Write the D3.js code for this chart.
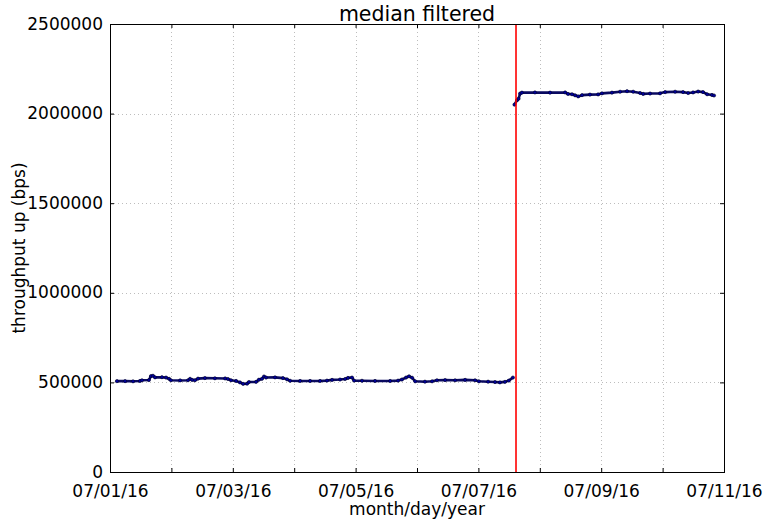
<!DOCTYPE html>
<html>
<head>
<meta charset="utf-8">
<script src="https://cdn.jsdelivr.net/npm/d3@7"></script>
<style>
  html, body { margin: 0; padding: 0; background: #fff; }
  svg { display: block; font-family: "DejaVu Sans", sans-serif; }
</style>
</head>
<body>
<svg id="chart" width="765" height="522"></svg>
<script>
// Sample times are hours after 07/01/16 00:00 (UTC); values are bps.
const lowHours = [2.7, 5.9, 9.0, 11.7, 12.5, 15.2, 16.0, 16.8, 17.6, 20.3, 21.9, 23.1, 23.8, 27.4, 30.5, 31.3, 32.1, 33.2, 34.4, 37.1, 41.0, 45.0, 46.1, 47.3, 49.3, 50.8, 52.0, 53.6, 54.3, 57.1, 58.2, 59.4, 60.2, 61.0, 64.5, 67.6, 69.2, 70.4, 74.3, 78.2, 82.1, 84.8, 86.8, 89.9, 91.9, 93.0, 94.6, 95.4, 98.5, 103.6, 109.5, 112.6, 114.1, 115.7, 116.9, 118.1, 119.3, 123.1, 125.9, 127.8, 131.0, 134.9, 138.8, 142.7, 144.2, 147.8, 150.5, 152.4, 154.4, 155.9, 157.5];
const lowValues = [507000, 507000, 506000, 508000, 512000, 513000, 535000, 537000, 528000, 529000, 527000, 520000, 512000, 511000, 512000, 520000, 514000, 512000, 521000, 524000, 523000, 522000, 519000, 512000, 508000, 500000, 492000, 493000, 502000, 503000, 515000, 520000, 533000, 527000, 528000, 524000, 517000, 509000, 508000, 508000, 508000, 510000, 514000, 516000, 519000, 525000, 527000, 510000, 509000, 508000, 508000, 510000, 516000, 527000, 534000, 526000, 506000, 504000, 506000, 512000, 513000, 512000, 514000, 512000, 506000, 504000, 502000, 500000, 503000, 510000, 527000];

const highHours = [158.1, 159.1, 159.7, 160.3, 161.0, 166.1, 172.0, 177.9, 179.0, 180.6, 181.8, 183.0, 184.5, 187.6, 190.8, 192.3, 196.2, 199.4, 202.1, 204.5, 207.2, 208.4, 211.1, 215.0, 217.0, 220.9, 224.0, 226.0, 227.9, 229.9, 231.8, 233.4, 235.3, 236.1];
const highValues = [2050000, 2075000, 2083000, 2112000, 2117000, 2118000, 2117000, 2118000, 2110000, 2108000, 2102000, 2096000, 2103000, 2106000, 2107000, 2113000, 2117000, 2122000, 2125000, 2122000, 2115000, 2110000, 2112000, 2113000, 2120000, 2122000, 2120000, 2115000, 2118000, 2123000, 2120000, 2108000, 2104000, 2101000];

// Moment the throughput level changed (hours after start).
const changeHour = [158.7];

const yTickValues = [0, 500000, 1000000, 1500000, 2000000, 2500000];
const xLabelDays = ["07/01/16", "07/03/16", "07/05/16", "07/07/16", "07/09/16", "07/11/16"];

const t0 = Date.UTC(2016, 6, 1);
const toDate = h => new Date(t0 + h * 3600e3);

const margin = { left: 110, right: 41, top: 24, bottom: 50 };
const W = 765, H = 522;
const iw = W - margin.left - margin.right;
const ih = H - margin.top - margin.bottom;

const svg = d3.select("#chart");
const g = svg.append("g").attr("transform", `translate(${margin.left},${margin.top})`);

const x = d3.scaleUtc().domain([toDate(0), toDate(240)]).range([0, iw]);
const y = d3.scaleLinear().domain([0, 2500000]).range([ih, 0]);

const dayTicks = d3.utcDay.range(toDate(0), toDate(241));
const parseDay = d3.utcParse("%m/%d/%y");
const labelTicks = xLabelDays.map(parseDay);

// grid
g.append("g").selectAll("line").data(dayTicks.slice(1, -1)).join("line")
  .attr("x1", d => Math.round(x(d)) + 0.5).attr("x2", d => Math.round(x(d)) + 0.5)
  .attr("y1", 0).attr("y2", ih)
  .attr("stroke", "#bdbdbd").attr("stroke-width", 1).attr("stroke-dasharray", "1,3");
g.append("g").selectAll("line").data(yTickValues.slice(1, -1)).join("line")
  .attr("y1", d => Math.round(y(d)) + 0.5).attr("y2", d => Math.round(y(d)) + 0.5)
  .attr("x1", 0).attr("x2", iw)
  .attr("stroke", "#bdbdbd").attr("stroke-width", 1).attr("stroke-dasharray", "1,3");

// series
const line = d3.line().x(d => x(d[0])).y(d => y(d[1]));
const series = [
  d3.zip(lowHours.map(toDate), lowValues),
  d3.zip(highHours.map(toDate), highValues)
];
series.forEach(pts => {
  g.append("path").datum(pts).attr("d", line)
    .attr("fill", "none").attr("stroke", "#0a0a60").attr("stroke-width", 2.6)
    .attr("stroke-linejoin", "round");
  g.append("g").selectAll("circle").data(pts).join("circle")
    .attr("cx", d => x(d[0])).attr("cy", d => y(d[1])).attr("r", 1.6)
    .attr("fill", "#0000a0").attr("stroke", "#000020").attr("stroke-width", 0.6);
});

// change marker
g.append("g").selectAll("line").data(changeHour).join("line")
  .attr("x1", d => x(toDate(d))).attr("x2", d => x(toDate(d)))
  .attr("y1", 0).attr("y2", ih)
  .attr("stroke", "#ff0000").attr("stroke-width", 1.6);

// axes (ticks pointing inward on all sides)
const axB = g.append("g").attr("transform", `translate(0,${ih})`)
  .call(d3.axisBottom(x).tickValues(dayTicks).tickSize(-4).tickPadding(11)
    .tickFormat(d => labelTicks.some(l => +l === +d) ? d3.utcFormat("%m/%d/%y")(d) : ""));
const axT = g.append("g")
  .call(d3.axisTop(x).tickValues(dayTicks).tickSize(-4).tickFormat(""));
const axL = g.append("g")
  .call(d3.axisLeft(y).tickValues(yTickValues).tickSize(-4).tickPadding(7).tickFormat(d3.format("d")));
const axR = g.append("g").attr("transform", `translate(${iw},0)`)
  .call(d3.axisRight(y).tickValues(yTickValues).tickSize(-4).tickFormat(""));

[axB, axT, axL, axR].forEach(a => {
  a.select(".domain").remove();
  a.selectAll(".tick line").attr("stroke", "#000");
  a.selectAll("text").attr("font-size", 17).attr("fill", "#000")
    .attr("font-family", "DejaVu Sans, sans-serif");
});
axB.selectAll("text").attr("dy", "0.8em");
axL.selectAll("text").attr("dy", "0.3em");

// frame
g.append("rect").attr("x", 0.5).attr("y", 0.5).attr("width", iw).attr("height", ih)
  .attr("fill", "none").attr("stroke", "#000").attr("stroke-width", 1);

// titles
svg.append("text").attr("x", margin.left + iw / 2).attr("y", 21)
  .attr("text-anchor", "middle").attr("font-size", 20.5).text("median filtered");
svg.append("text").attr("x", margin.left + iw / 2).attr("y", 515)
  .attr("text-anchor", "middle").attr("font-size", 17).text("month/day/year");
svg.append("text").attr("transform", `translate(25,${margin.top + ih / 2}) rotate(-90)`)
  .attr("text-anchor", "middle").attr("font-size", 17).text("throughput up (bps)");
</script>
</body>
</html>
